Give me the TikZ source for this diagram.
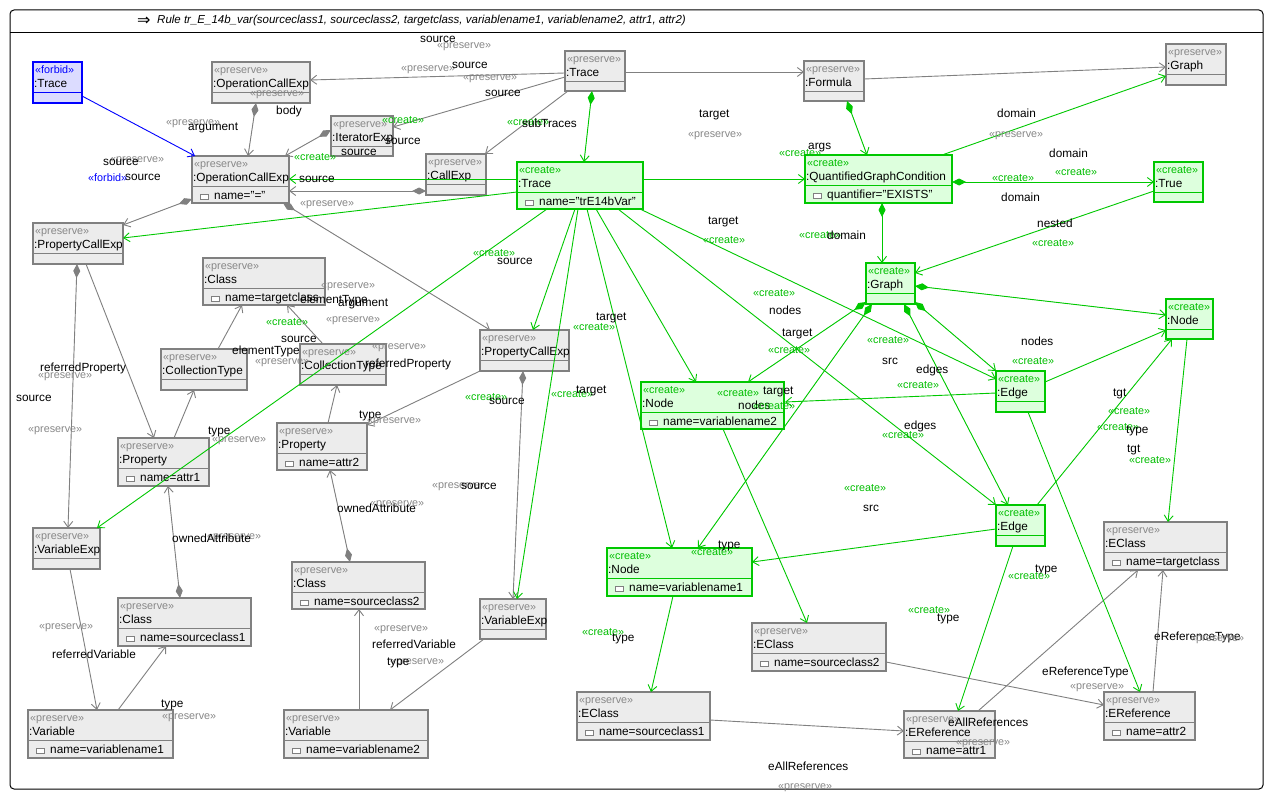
\documentclass[tikz,border=0pt]{standalone}
\usepackage{fontspec}
\setmainfont{Liberation Sans}
\newfontfamily\symfont{DejaVu Sans}
\usetikzlibrary{arrows.meta}

\definecolor{pgray}{RGB}{128,128,128}
\definecolor{pfill}{RGB}{236,236,236}
\definecolor{stgray}{RGB}{135,135,135}
\definecolor{cgreen}{RGB}{0,200,0}
\definecolor{cfill}{RGB}{221,255,221}
\definecolor{ctext}{RGB}{0,190,0}
\definecolor{fblue}{RGB}{0,0,255}
\definecolor{ffill}{RGB}{220,220,255}

\tikzset{
  objbox/.style={rectangle, inner sep=0pt, outer sep=0pt, line width=1.1pt},
  pres/.style={objbox, draw=pgray, fill=pfill},
  crea/.style={objbox, draw=cgreen, fill=cfill},
  forb/.style={objbox, draw=fblue, fill=ffill},
  pres-ln/.style={draw=pgray, line width=1pt},
  crea-ln/.style={draw=cgreen, line width=1pt},
  forb-ln/.style={draw=fblue, line width=1pt},
  sttxt/.style={inner sep=0pt, anchor=west, text height=7.8pt, text depth=2.3pt,
    font=\fontsize{10.8}{12}\selectfont},
  pres-st/.style={sttxt, text=stgray},
  crea-st/.style={sttxt, text=ctext},
  forb-st/.style={sttxt, text=fblue},
  nm/.style={inner sep=0pt, anchor=west, text height=8.5pt, text depth=2.5pt,
    font=\fontsize{11.8}{13}\selectfont},
  iconst/.style={draw=pgray, fill=white, line width=0.6pt},
  % connectors
  conn/.style={line width=0.9pt},
  pa/.style={conn, draw=pgray, -{Straight Barb[length=6pt,width=9pt]}},
  pd/.style={conn, draw=pgray, fill=pgray,
    {Diamond[length=14pt,width=7pt]}-{Straight Barb[length=6pt,width=9pt,fill=none]}},
  ca/.style={conn, draw=cgreen, -{Straight Barb[length=6pt,width=9pt]}},
  cd/.style={conn, draw=cgreen, fill=cgreen,
    {Diamond[length=14pt,width=7pt]}-{Straight Barb[length=6pt,width=9pt,fill=none]}},
  fa/.style={conn, draw=fblue, -{Straight Barb[length=6pt,width=9pt]}},
  % edge labels
  lb/.style={nm, text=black},
  lp/.style={sttxt, text=stgray},
  lc/.style={sttxt, text=ctext},
  lf/.style={sttxt, text=fblue},
}

\newcommand\stpres{«preserve»}
\newcommand\stcrea{«create»}
\newcommand\stforb{«forbid»}

% object box: name, kind, x1, y1, x2, y2, object name, attribute
\newcommand\umlobj[8]{%
  \node[#2, anchor=north west, minimum width={(#5-#3)*1pt},
        minimum height={(#6-#4)*1pt}] (#1) at (#3,#4) {};
  \draw[#2-ln] ([shift={(0,30)}]#1.north west) -- ([shift={(0,30)}]#1.north east);
  \node[#2-st] (#1-st) at ([shift={(2,8.5)}]#1.north west) {\csname st#2\endcsname};
  \node[nm] (#1-nm) at ([shift={(1,22.5)}]#1.north west) {#7};
  \def\tmpattr{#8}%
  \ifx\tmpattr\empty\else
    \draw[iconst] ([shift={(8,38.5)}]#1.north west) rectangle ([shift={(16,43)}]#1.north west);
    \node[nm] (#1-at) at ([shift={(22,40.5)}]#1.north west) {#8};
  \fi
}

% connector between two boxes, points given relative to their north west corners
\newcommand\cn[7]{%
  \draw[#1] ([shift={(#3,#4)}]#2.north west) -- ([shift={(#6,#7)}]#5.north west);}

\newcounter{lab}
\newcommand\lbl[4]{\stepcounter{lab}\node[#1] (lab\arabic{lab}) at (#2,#3) {#4};}

\begin{document}
\begin{tikzpicture}[x=1pt, y=-1pt]
\useasboundingbox (0,0) rectangle (1273,800);
\fill[white] (0,0) rectangle (1273,800);

% rule frame and title
\draw[line width=1pt, rounded corners=4pt] (10,10) rectangle (1263,789);
\draw[line width=1pt] (10,33) -- (1263,33);
\node[inner sep=0pt, anchor=west] (tarrow) at (137,21.5) {\symfont\fontsize{16}{17}\selectfont ⇒};
\node[inner sep=0pt, anchor=west] (title) at (157,21)
  {\fontsize{11.5}{13}\selectfont\itshape Rule tr\_E\_14b\_var(sourceclass1, sourceclass2, targetclass, variablename1, variablename2, attr1, attr2)};

% objects
\umlobj{fT}{forb}{33}{62}{82}{103}{:Trace}{}
\umlobj{ocA}{pres}{212}{62}{310}{103}{:OperationCallExp}{}
\umlobj{ocB}{pres}{192}{156}{289}{203}{:OperationCallExp}{name="="}
\umlobj{pcA}{pres}{33}{223}{123}{264}{:PropertyCallExp}{}
\umlobj{clT}{pres}{203}{258}{325}{305}{:Class}{name=targetclass}
\umlobj{itE}{pres}{331}{116}{393}{156}{:IteratorExp}{}
\umlobj{caE}{pres}{426}{154}{486}{195}{:CallExp}{}
\umlobj{trP}{pres}{565}{51}{625}{91}{:Trace}{}
\umlobj{trC}{crea}{517}{162}{643}{209}{:Trace}{name="trE14bVar"}
\umlobj{foR}{pres}{804}{61}{864}{101}{:Formula}{}
\umlobj{qgc}{crea}{805}{155}{952}{203}{:QuantifiedGraphCondition}{quantifier="EXISTS"}
\umlobj{grP}{pres}{1166}{44}{1226}{85}{:Graph}{}
\umlobj{trU}{crea}{1154}{162}{1203}{202}{:True}{}
\umlobj{grC}{crea}{866}{263}{915}{304}{:Graph}{}
\umlobj{ndR}{crea}{1166}{299}{1213}{339}{:Node}{}
\umlobj{edA}{crea}{996}{371}{1045}{412}{:Edge}{}
\umlobj{edB}{crea}{996}{505}{1045}{546}{:Edge}{}
\umlobj{nd2}{crea}{641}{382}{784}{429}{:Node}{name=variablename2}
\umlobj{nd1}{crea}{607}{548}{752}{596}{:Node}{name=variablename1}
\umlobj{ecT}{pres}{1104}{522}{1227}{570}{:EClass}{name=targetclass}
\umlobj{ec2}{pres}{752}{623}{886}{671}{:EClass}{name=sourceclass2}
\umlobj{ec1}{pres}{577}{692}{710}{740}{:EClass}{name=sourceclass1}
\umlobj{er1}{pres}{904}{711}{995}{758}{:EReference}{name=attr1}
\umlobj{er2}{pres}{1104}{692}{1195}{740}{:EReference}{name=attr2}
\umlobj{ctA}{pres}{161}{349}{247}{390}{:CollectionType}{}
\umlobj{ctB}{pres}{300}{344}{386}{385}{:CollectionType}{}
\umlobj{prA}{pres}{118}{438}{209}{486}{:Property}{name=attr1}
\umlobj{prB}{pres}{277}{423}{367}{470}{:Property}{name=attr2}
\umlobj{pcB}{pres}{480}{330}{569}{371}{:PropertyCallExp}{}
\umlobj{veA}{pres}{33}{528}{100}{569}{:VariableExp}{}
\umlobj{csA}{pres}{118}{598}{251}{646}{:Class}{name=sourceclass1}
\umlobj{vaA}{pres}{28}{710}{173}{758}{:Variable}{name=variablename1}
\umlobj{csB}{pres}{292}{562}{425}{609}{:Class}{name=sourceclass2}
\umlobj{vaB}{pres}{284}{710}{428}{758}{:Variable}{name=variablename2}
\umlobj{veB}{pres}{480}{599}{546}{639}{:VariableExp}{}

% preserved references
\cn{pa}{trP}{0}{22}{ocA}{98}{18}
\cn{pa}{trP}{0}{26}{itE}{62}{11}
\cn{pa}{trP}{3}{40}{caE}{59}{0}
\cn{pa}{trP}{60}{21}{foR}{0}{11}
\cn{pa}{foR}{60}{18}{grP}{0}{23}
\cn{pa}{pcA}{53}{41}{prA}{36}{0}
\cn{pa}{ctA}{57}{0}{clT}{39}{47}
\cn{pa}{ctB}{23}{0}{clT}{84}{47}
\cn{pa}{prA}{56}{0}{ctA}{33}{41}
\cn{pa}{prB}{51}{0}{ctB}{37}{41}
\cn{pa}{pcB}{0}{41}{prB}{90}{2}
\cn{pa}{veA}{37}{41}{vaA}{69}{0}
\cn{pa}{vaA}{90}{0}{csA}{48}{48}
\cn{pa}{vaB}{75}{0}{csB}{67}{47}
\cn{pa}{veB}{4}{40}{vaB}{106}{0}
\cn{pa}{ec1}{133}{28}{er1}{0}{20}
\cn{pa}{ec2}{134}{39}{er2}{0}{13}
\cn{pa}{er1}{74}{0}{ecT}{34}{48}
\cn{pa}{er2}{49}{0}{ecT}{59}{48}

% preserved containments
\cn{pd}{ocA}{44}{41}{ocB}{56}{0}
\cn{pd}{itE}{0}{14}{ocB}{93}{0}
\cn{pd}{caE}{0}{37}{ocB}{97}{35}
\cn{pd}{ocB}{0}{43}{pcA}{90}{2}
\cn{pd}{ocB}{91}{47}{pcB}{10}{0}
\cn{pd}{pcA}{44}{41}{veA}{35}{0}
\cn{pd}{pcB}{43}{41}{veB}{33}{0}
\cn{pd}{csA}{62}{0}{prA}{50}{48}
\cn{pd}{csB}{58}{0}{prB}{53}{47}

% forbidden reference
\cn{fa}{fT}{49}{34}{ocB}{3}{0}

% created references
\cn{ca}{trC}{0}{17}{ocB}{97}{23}
\cn{ca}{trC}{0}{30}{pcA}{90}{15}
\cn{ca}{trC}{126}{17}{qgc}{0}{24}
\cn{ca}{qgc}{137}{0}{grP}{0}{32}
\cn{ca}{trU}{0}{29}{grC}{49}{10}
\cn{ca}{trC}{30}{47}{veA}{64}{0}
\cn{ca}{trC}{58}{47}{pcB}{53}{0}
\cn{ca}{trC}{61}{47}{veB}{37}{0}
\cn{ca}{trC}{70}{47}{nd1}{65}{0}
\cn{ca}{trC}{79}{47}{nd2}{55}{0}
\cn{ca}{trC}{101}{47}{edB}{0}{0}
\cn{ca}{trC}{123}{47}{edA}{0}{8}
\cn{ca}{edA}{0}{22}{nd2}{144}{20}
\cn{ca}{edA}{49}{11}{ndR}{0}{31}
\cn{ca}{edA}{32}{41}{er2}{36}{0}
\cn{ca}{edB}{41}{0}{ndR}{6}{40}
\cn{ca}{ndR}{21}{40}{ecT}{64}{0}
\cn{ca}{edB}{0}{24}{nd1}{145}{14}
\cn{ca}{edB}{17}{41}{er1}{54}{0}
\cn{ca}{nd2}{82}{47}{ec2}{55}{0}
\cn{ca}{nd1}{66}{48}{ec1}{74}{0}

% created containments
\cn{cd}{trP}{27}{40}{trC}{67}{0}
\cn{cd}{foR}{43}{40}{qgc}{62}{0}
\cn{cd}{qgc}{77}{48}{grC}{16}{0}
\cn{cd}{qgc}{147}{27}{trU}{0}{20}
\cn{cd}{grC}{49}{23}{ndR}{0}{16}
\cn{cd}{grC}{0}{39}{nd2}{107}{0}
\cn{cd}{grC}{6}{41}{nd1}{91}{0}
\cn{cd}{grC}{38}{41}{edB}{12}{0}
\cn{cd}{grC}{49}{39}{edA}{0}{0}

% reference labels
\lbl{lb}{420}{39}{source}
\lbl{lp}{437}{46}{«preserve»}
\lbl{lp}{401}{69}{«preserve»}
\lbl{lb}{452}{65}{source}
\lbl{lp}{463}{78}{«preserve»}
\lbl{lb}{485}{93}{source}
\lbl{lc}{382}{121}{«create»}
\lbl{lb}{385}{141}{source}
\lbl{lb}{341}{152}{source}
\lbl{lc}{507}{123}{«create»}
\lbl{lb}{522}{124}{subTraces}
\lbl{lp}{250}{94}{«preserve»}
\lbl{lb}{276}{111}{body}
\lbl{lp}{166}{123}{«preserve»}
\lbl{lb}{188}{127}{argument}
\lbl{lp}{110}{160}{«preserve»}
\lbl{lb}{103}{162}{source}
\lbl{lf}{88}{179}{«forbid»}
\lbl{lb}{125}{177}{source}
\lbl{lc}{294}{158}{«create»}
\lbl{lb}{299}{179}{source}
\lbl{lp}{300}{204}{«preserve»}
\lbl{lb}{699}{114}{target}
\lbl{lp}{688}{135}{«preserve»}
\lbl{lb}{808}{146}{args}
\lbl{lc}{779}{154}{«create»}
\lbl{lb}{997}{114}{domain}
\lbl{lp}{989}{135}{«preserve»}
\lbl{lb}{1049}{154}{domain}
\lbl{lc}{1055}{173}{«create»}
\lbl{lc}{992}{179}{«create»}
\lbl{lb}{1001}{198}{domain}
\lbl{lb}{1037}{224}{nested}
\lbl{lc}{1032}{244}{«create»}
\lbl{lb}{708}{221}{target}
\lbl{lc}{703}{241}{«create»}
\lbl{lc}{799}{236}{«create»}
\lbl{lb}{827}{236}{domain}
\lbl{lc}{473}{254}{«create»}
\lbl{lb}{497}{261}{source}
\lbl{lp}{321}{286}{«preserve»}
\lbl{lb}{300}{300}{elementType}
\lbl{lb}{338}{303}{argument}
\lbl{lp}{326}{320}{«preserve»}
\lbl{lc}{266}{323}{«create»}
\lbl{lb}{281}{339}{source}
\lbl{lp}{372}{347}{«preserve»}
\lbl{lb}{232}{351}{elementType}
\lbl{lp}{255}{362}{«preserve»}
\lbl{lb}{365}{364}{referredProperty}
\lbl{lb}{40}{368}{referredProperty}
\lbl{lp}{38}{376}{«preserve»}
\lbl{lb}{16}{398}{source}
\lbl{lp}{28}{430}{«preserve»}
\lbl{lb}{208}{431}{type}
\lbl{lp}{212}{440}{«preserve»}
\lbl{lb}{359}{415}{type}
\lbl{lp}{367}{421}{«preserve»}
\lbl{lp}{432}{486}{«preserve»}
\lbl{lb}{461}{486}{source}
\lbl{lp}{370}{504}{«preserve»}
\lbl{lb}{337}{509}{ownedAttribute}
\lbl{lp}{207}{537}{«preserve»}
\lbl{lb}{172}{539}{ownedAttribute}
\lbl{lp}{39}{627}{«preserve»}
\lbl{lb}{52}{655}{referredVariable}
\lbl{lb}{161}{704}{type}
\lbl{lp}{162}{717}{«preserve»}
\lbl{lp}{374}{629}{«preserve»}
\lbl{lb}{372}{645}{referredVariable}
\lbl{lp}{390}{662}{«preserve»}
\lbl{lb}{387}{662}{type}
\lbl{lc}{465}{398}{«create»}
\lbl{lb}{489}{401}{source}
\lbl{lb}{596}{317}{target}
\lbl{lc}{573}{328}{«create»}
\lbl{lc}{551}{395}{«create»}
\lbl{lb}{576}{390}{target}
\lbl{lc}{753}{294}{«create»}
\lbl{lb}{769}{311}{nodes}
\lbl{lb}{782}{333}{target}
\lbl{lc}{768}{351}{«create»}
\lbl{lc}{867}{341}{«create»}
\lbl{lb}{882}{361}{src}
\lbl{lb}{916}{370}{edges}
\lbl{lc}{897}{386}{«create»}
\lbl{lc}{717}{394}{«create»}
\lbl{lb}{763}{391}{target}
\lbl{lb}{738}{406}{nodes}
\lbl{lc}{753}{407}{«create»}
\lbl{lb}{904}{426}{edges}
\lbl{lc}{882}{436}{«create»}
\lbl{lc}{844}{489}{«create»}
\lbl{lb}{863}{508}{src}
\lbl{lb}{1021}{342}{nodes}
\lbl{lc}{1012}{362}{«create»}
\lbl{lb}{1113}{393}{tgt}
\lbl{lc}{1108}{412}{«create»}
\lbl{lc}{1097}{428}{«create»}
\lbl{lb}{1126}{430}{type}
\lbl{lb}{1127}{449}{tgt}
\lbl{lc}{1129}{461}{«create»}
\lbl{lc}{691}{553}{«create»}
\lbl{lb}{718}{545}{type}
\lbl{lb}{1035}{569}{type}
\lbl{lc}{1008}{577}{«create»}
\lbl{lc}{582}{633}{«create»}
\lbl{lb}{612}{638}{type}
\lbl{lc}{908}{611}{«create»}
\lbl{lb}{937}{618}{type}
\lbl{lb}{1154}{637}{eReferenceType}
\lbl{lp}{1190}{639}{«preserve»}
\lbl{lb}{1042}{672}{eReferenceType}
\lbl{lp}{1070}{687}{«preserve»}
\lbl{lb}{948}{723}{eAllReferences}
\lbl{lp}{956}{743}{«preserve»}
\lbl{lb}{768}{767}{eAllReferences}
\lbl{lp}{778}{787}{«preserve»}
\end{tikzpicture}
\end{document}
